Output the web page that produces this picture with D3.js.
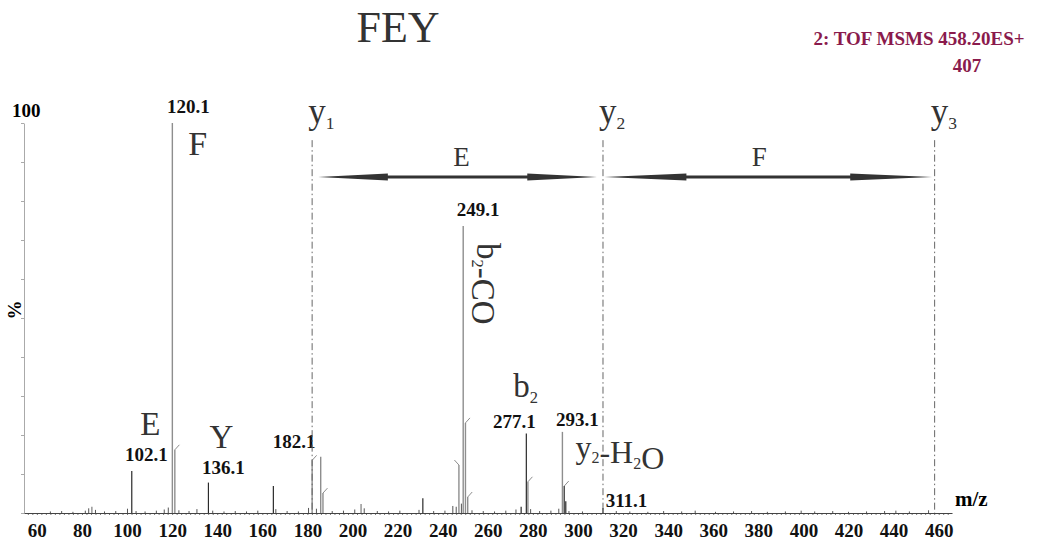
<!DOCTYPE html>
<html>
<head>
<meta charset="utf-8">
<script src="https://cdn.jsdelivr.net/npm/d3@7/dist/d3.min.js"></script>
<style>
  html, body { margin: 0; padding: 0; background: #fff; }
  svg { display: block; }
  text { font-family: "Liberation Serif", "Times New Roman", serif; }
</style>
</head>
<body>
<svg id="chart" width="1038" height="543"></svg>
<script>
// ---- spectrum data (m/z, relative intensity %) ----
// profile trace (grey sticks)
const greyMz  = [84.4, 120.1, 121.2, 182.1, 185.9, 186.9, 203.8, 247.2, 249.1, 250.1, 251.1, 277.8, 293.1];
const greyInt = [1.6, 100, 16.2, 13.5, 14.4, 5.1, 2.3, 12.3, 73.6, 23.1, 4.1, 8.0, 20.8];
// centroid trace (dark sticks)
const darkMz  = [102.1, 136.1, 164.9, 231.2, 274.8, 277.1, 293.9, 294.6, 311.1];
const darkInt = [10.8, 7.8, 6.9, 3.8, 1.6, 20.4, 6.9, 3.0, 1.3];
// low-level baseline signals
const noiseMz  = [66, 71, 76, 81.5, 83, 86, 90, 95, 100.2, 104, 108, 113, 116.5, 118.3, 123, 127.5, 131, 138, 143, 148, 153, 158, 166, 171, 176, 180.5, 184, 191, 196, 201, 205.2, 211, 216, 221, 229.5, 236, 241, 244.5, 246, 248.3, 253, 258, 263, 268, 272.5, 279, 283, 288, 291.5, 296, 302, 317, 323, 331, 338, 346, 352, 361, 369, 377, 384, 392, 399, 405, 413, 420, 428, 436, 441, 447, 455.5];
const noiseInt = [0.4, 0.5, 0.3, 0.6, 1.2, 0.8, 0.4, 0.5, 1.1, 0.5, 0.4, 0.6, 0.9, 1.4, 0.7, 0.5, 1.0, 0.6, 0.4, 0.5, 0.4, 0.6, 1.0, 0.5, 0.4, 1.3, 1.1, 0.5, 0.6, 0.9, 1.2, 0.5, 0.4, 0.6, 0.8, 0.5, 0.6, 1.8, 1.6, 2.4, 0.7, 0.5, 0.4, 0.6, 0.9, 1.0, 0.5, 0.6, 1.1, 0.5, 0.4, 0.5, 0.4, 0.3, 0.5, 0.4, 0.6, 0.3, 0.4, 0.5, 0.3, 0.4, 0.6, 0.4, 0.5, 0.3, 0.4, 0.5, 0.6, 0.4, 0.7];
// isotope flags drawn at the top of some sticks
const isoRight = [121.2, 182.1, 186.9, 250.1, 251.1, 277.8, 293.9];
const isoLeft  = [247.2];

// labelled peaks
const labelMz = [102.1, 120.1, 136.1, 182.1, 249.1, 277.1, 293.1, 311.1];

// y-ion ladder and residues between rungs
const yIonMz = [182.1, 311.1, 458.2];
const yIonNames = ["1", "2", "3"];
const residues = ["E", "F"];

// axis ticks
const xTicks = d3.range(60, 461, 20);
const yTicks = d3.range(0, 101, 10);

const title = "FEY";
const headerLines = ["2: TOF MSMS 458.20ES+", "407"];

// ---- drawing ----
const svg = d3.select("#chart");
const x = d3.scaleLinear().domain([54.3, 465.9]).range([24, 952]);
const y = d3.scaleLinear().domain([0, 100]).range([513, 123]);

const ink = "#333";
const greyStick = "#8e8e8e";
const darkStick = "#2a2a2a";

// title and acquisition header
svg.append("text").attr("x", 398).attr("y", 42).attr("text-anchor", "middle")
  .attr("font-size", 44).attr("fill", ink).text(title);
svg.append("text").attr("x", 919).attr("y", 45).attr("text-anchor", "middle")
  .attr("font-size", 19).attr("font-weight", "bold").attr("fill", "#8a1a4c").text(headerLines[0]);
svg.append("text").attr("x", 967).attr("y", 72).attr("text-anchor", "middle")
  .attr("font-size", 19).attr("font-weight", "bold").attr("fill", "#8a1a4c").text(headerLines[1]);

// y axis
const yAxis = svg.append("g").attr("transform", `translate(${x.range()[0]},0)`)
  .call(d3.axisLeft(y).tickValues(yTicks).tickSize(3).tickSizeOuter(0).tickFormat(""));
yAxis.select(".domain").attr("stroke", "#aaa");
yAxis.selectAll(".tick line").attr("stroke", "#aaa");
svg.append("text").attr("x", 12).attr("y", 117).attr("font-size", 19)
  .attr("font-weight", "bold").text("100");
svg.append("text").attr("transform", "translate(21,310) rotate(-90)").attr("text-anchor", "middle")
  .attr("font-size", 19).attr("font-weight", "bold").text("%");

// x axis: minor ticks then labelled ticks
const minor = svg.append("g").attr("transform", `translate(0,${y(0)})`)
  .call(d3.axisBottom(x).tickValues(d3.range(56, 466, 2)).tickSize(2).tickFormat(""));
minor.select(".domain").remove();
minor.selectAll(".tick line").attr("stroke", "#777");
const xAxis = svg.append("g").attr("transform", `translate(0,${y(0)})`)
  .call(d3.axisBottom(x).tickValues(xTicks).tickSize(0).tickPadding(11).tickFormat(d3.format("d")));
xAxis.select(".domain").attr("stroke", "#444").attr("stroke-width", 1.2);
xAxis.selectAll(".tick text").attr("font-size", 19).attr("font-weight", "bold")
  .attr("font-family", "'Liberation Serif', 'Times New Roman', serif").attr("fill", "#111");
svg.append("text").attr("x", 955).attr("y", 506).attr("font-size", 21)
  .attr("font-weight", "bold").text("m/z");

// sticks
function sticks(mz, ints, color, width) {
  svg.append("g").selectAll("line").data(mz.map((m, i) => [m, ints[i]])).join("line")
    .attr("x1", d => x(d[0])).attr("x2", d => x(d[0]))
    .attr("y1", y(0)).attr("y2", d => y(d[1]))
    .attr("stroke", color).attr("stroke-width", width);
}
sticks(noiseMz, noiseInt, "#555", 1);
sticks(greyMz, greyInt, greyStick, 1.4);
sticks(darkMz, darkInt, darkStick, 1.2);

const allMz = greyMz.concat(darkMz);
const allInt = greyInt.concat(darkInt);
const intensityOf = m => allInt[allMz.indexOf(m)];

// isotope flags
function flags(list, dir) {
  svg.append("g").selectAll("line").data(list).join("line")
    .attr("x1", m => x(m)).attr("y1", m => y(intensityOf(m)))
    .attr("x2", m => x(m) + dir * 4.5).attr("y2", m => y(intensityOf(m)) - 5)
    .attr("stroke", greyStick).attr("stroke-width", 1);
}
flags(isoRight, 1);
flags(isoLeft, -1);

// peak labels: offsets [dx, dy] from the stick top
const labelOffset = {
  "102.1": [14.7, -9.5], "120.1": [16, -10], "136.1": [15, -8.6], "182.1": [-18, -12.4],
  "249.1": [15, -10], "277.1": [-12, -5.4], "293.1": [15, -6], "311.1": [23.5, -1]
};
svg.append("g").selectAll("text").data(labelMz).join("text")
  .attr("x", m => x(m) + labelOffset[m.toFixed(1)][0])
  .attr("y", m => y(intensityOf(m)) + labelOffset[m.toFixed(1)][1])
  .attr("text-anchor", "middle").attr("font-size", 19).attr("font-weight", "bold")
  .attr("fill", "#111").text(m => m.toFixed(1));

// y-ion rungs (dash-dot)
svg.append("g").selectAll("line").data(yIonMz).join("line")
  .attr("x1", m => x(m)).attr("x2", m => x(m))
  .attr("y1", y(95.6)).attr("y2", y(0))
  .attr("stroke", "#666").attr("stroke-width", 1).attr("stroke-dasharray", "7,3,1.5,3");

function subLabel(g, parts, size) {
  const t = g.append("text").attr("font-size", size).attr("fill", ink);
  parts.forEach(([s, sub]) => {
    t.append("tspan").attr("font-size", sub ? size * 0.5 : size)
      .attr("dy", sub ? size * 0.17 : 0).text(s);
    if (sub) t.append("tspan").attr("font-size", size).attr("dy", -size * 0.17).text("");
  });
  return t;
}

yIonMz.forEach((m, i) => {
  subLabel(svg, [["y", false], [yIonNames[i], true]], 35)
    .attr("x", x(m) - 4).attr("y", 123);
});

// residue arrows between consecutive y ions
const arrowY = 177;
for (let i = 0; i < yIonMz.length - 1; i++) {
  const x0 = x(yIonMz[i]) + (i === 0 ? 6 : 1.5);
  const x1 = x(yIonMz[i + 1]) - (i === 0 ? 6 : 2.5);
  const h = (x1 - x0) * 0.25, hw = 3.6, sw = 1.5;
  const pts = [[x0, arrowY], [x0 + h, arrowY - hw], [x0 + h, arrowY - sw], [x1 - h, arrowY - sw],
    [x1 - h, arrowY - hw], [x1, arrowY], [x1 - h, arrowY + hw], [x1 - h, arrowY + sw],
    [x0 + h, arrowY + sw], [x0 + h, arrowY + hw]];
  svg.append("path").attr("d", d3.line()(pts) + "Z").attr("fill", ink);
  svg.append("text").attr("x", (x0 + x1) / 2 + (i === 0 ? 4 : -9)).attr("y", 166)
    .attr("text-anchor", "middle").attr("font-size", 27).attr("fill", ink).text(residues[i]);
}

// immonium / fragment annotations
svg.append("text").attr("x", x(120.1) + 16).attr("y", 155).attr("font-size", 34).attr("fill", ink).text("F");
svg.append("text").attr("x", x(102.1) + 8.5).attr("y", 435).attr("font-size", 33).attr("fill", ink).text("E");
svg.append("text").attr("x", x(136.1) + 1).attr("y", 448).attr("font-size", 33).attr("fill", ink).text("Y");

const bco = svg.append("g").attr("transform", `translate(${x(249.1) + 14},243) rotate(90)`);
subLabel(bco, [["b", false], ["2", true], ["-CO", false]], 33);

subLabel(svg, [["b", false], ["2", true]], 33).attr("x", x(277.1) - 13).attr("y", 397);
subLabel(svg, [["y", false], ["2", true], ["-H", false], ["2", true], ["O", false]], 32)
  .attr("x", x(293.1) + 13).attr("y", 458);
</script>
</body>
</html>
